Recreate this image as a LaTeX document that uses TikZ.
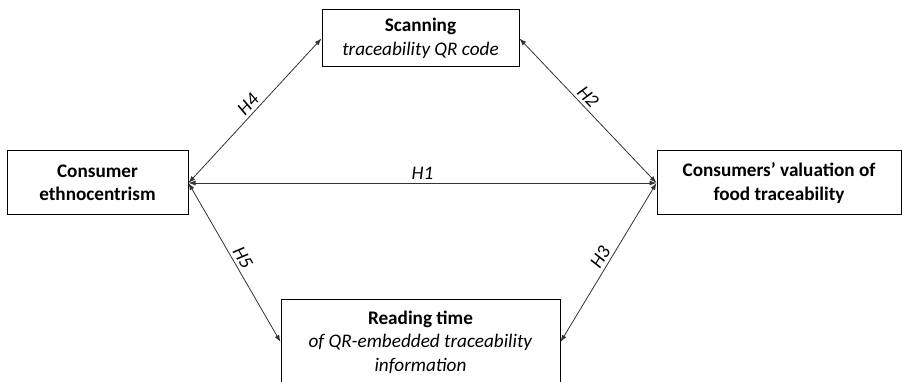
\documentclass[tikz,border=0pt]{standalone}
\usepackage{fontspec}
\setmainfont{Carlito}
\usetikzlibrary{arrows.meta}
\begin{document}
\begin{tikzpicture}[x=1pt,y=-1pt,
  var/.style={draw,line width=1pt,align=center,inner sep=2pt,font=\fontsize{19.2}{23.5}\selectfont},
  link/.style={{Latex[length=7pt,width=5pt]}-{Latex[length=7pt,width=5pt]},draw=black!80,line width=0.8pt},
  hyp/.style={midway,above,sloped,inner sep=3pt,font=\fontsize{19.2}{22}\selectfont\itshape}]
\useasboundingbox (0,0) rectangle (902,382);
\node[var,minimum width=181pt,minimum height=64pt] (ce) at (97.5,183) {\textbf{Consumer}\\\textbf{ethnocentrism}};
\node[var,minimum width=197pt,minimum height=57pt] (scan) at (420.5,38.5) {\textbf{Scanning}\\\textit{traceability QR code}};
\node[var,minimum width=244pt,minimum height=64pt] (val) at (779,183) {\textbf{Consumers’ valuation of}\\\textbf{food traceability}};
\node[var,minimum width=279pt,minimum height=86pt] (read) at (420.5,342) {\textbf{Reading time}\\\textit{of QR-embedded traceability}\\\textit{information}};
\draw[link] (ce.east) -- (val.west) node[hyp] {H1};
\draw[link] (scan.east) -- (val.west) node[hyp,pos=0.45] {H2};
\draw[link] (val.west) -- (read.east) node[hyp] {H3};
\draw[link] (ce.east) -- (scan.west) node[hyp] {H4};
\draw[link] (ce.east) -- (read.west) node[hyp] {H5};
\end{tikzpicture}
\end{document}
